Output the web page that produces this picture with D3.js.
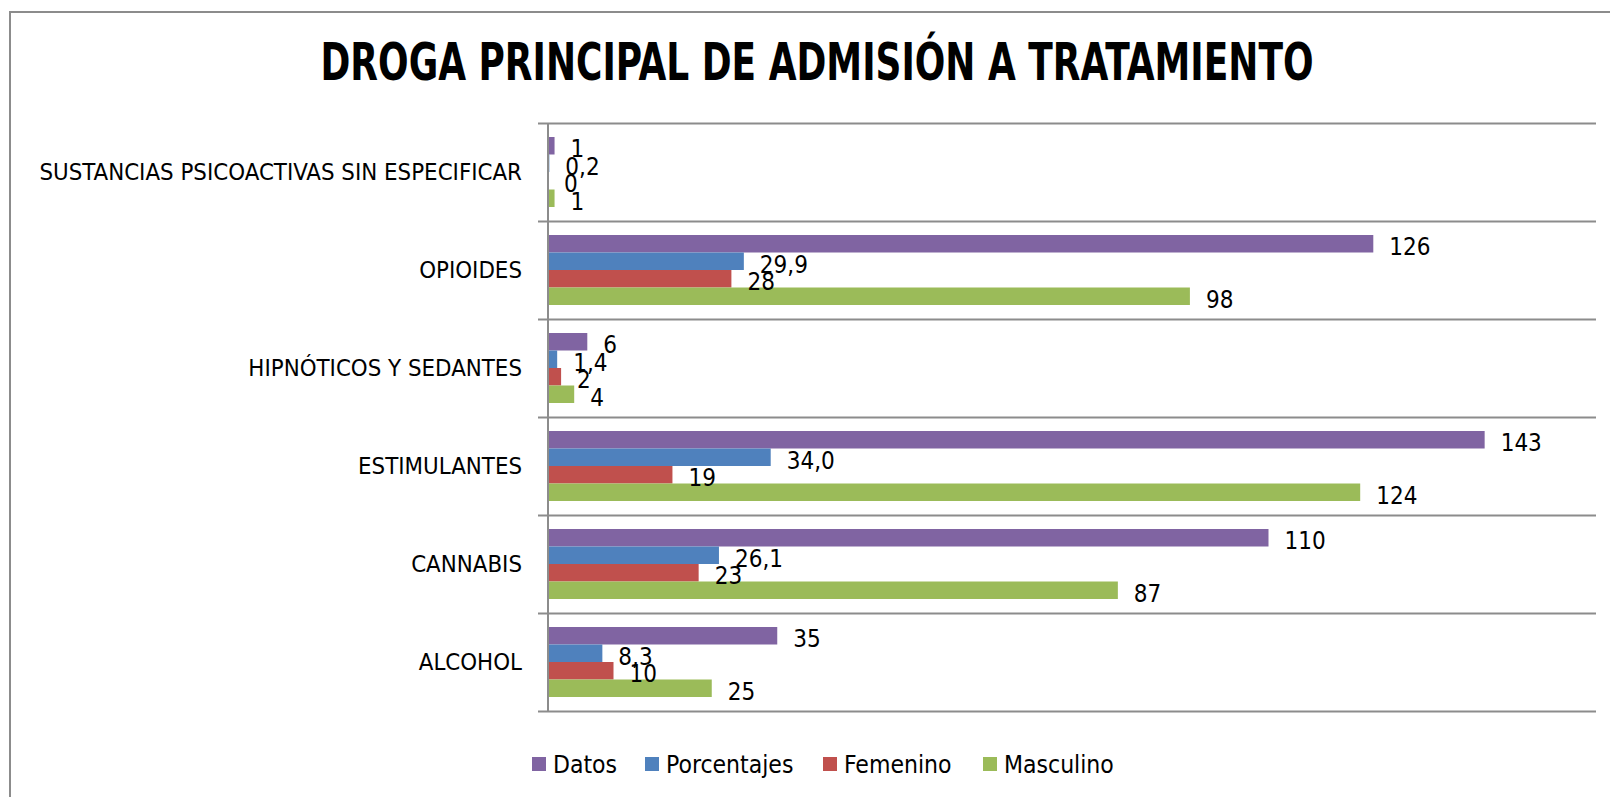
<!DOCTYPE html>
<html>
<head>
<meta charset="utf-8">
<script src="https://cdn.jsdelivr.net/npm/d3@7"></script>
<style>
  html, body { margin: 0; padding: 0; background: #fff; }
  svg { display: block; }
</style>
</head>
<body>
<svg id="chart"></svg>
<script>
const width = 1610,
    height = 797;

// categories, top to bottom as drawn
const categories = [
    'SUSTANCIAS PSICOACTIVAS SIN ESPECIFICAR',
    'OPIOIDES',
    'HIPNÓTICOS Y SEDANTES',
    'ESTIMULANTES',
    'CANNABIS',
    'ALCOHOL',
];
const datos = [1, 126, 6, 143, 110, 35];
const porcentajes = [0.2, 29.9, 1.4, 34.0, 26.1, 8.3];
const femenino = [0, 28, 2, 19, 23, 10];
const masculino = [1, 98, 4, 124, 87, 25];

const seriesNames = ['Datos', 'Porcentajes', 'Femenino', 'Masculino'];
const seriesValues = [datos, porcentajes, femenino, masculino];
const seriesDecimals = [0, 1, 0, 0];
const colors = ['#8064A2', '#4F81BD', '#C0504D', '#9BBB59'];
const xMax = 160;

const font = '"DejaVu Sans Condensed", "Open Sans", sans-serif';

const margin = { top: 123, right: 14, bottom: 86, left: 548 };

const svg = d3.select('#chart').attr('width', width).attr('height', height);

// outer chart frame
svg.append('rect')
    .attr('x', 10).attr('y', 12)
    .attr('width', width + 20).attr('height', height + 20)
    .attr('fill', '#fff')
    .attr('stroke', '#8c8c8c')
    .attr('stroke-width', 2);

svg.append('text')
    .attr('x', 817)
    .attr('y', 80)
    .attr('text-anchor', 'middle')
    .attr('textLength', 993)
    .attr('lengthAdjust', 'spacingAndGlyphs')
    .style('font-family', font)
    .style('font-weight', 'bold')
    .style('font-size', '52px')
    .attr('fill', '#000')
    .text('DROGA PRINCIPAL DE ADMISIÓN A TRATAMIENTO');

const x = d3.scaleLinear()
    .domain([0, xMax])
    .range([margin.left, width - margin.right]);

const y = d3.scaleBand()
    .domain(categories)
    .range([margin.top, height - margin.bottom]);

const yInner = d3.scaleBand()
    .domain(seriesNames)
    .range([0, y.bandwidth()])
    .paddingOuter(0.8);

// gridlines at category boundaries
const bounds = categories.map((c) => y(c)).concat([y.range()[1]]);
svg.append('g')
    .selectAll('line')
    .data(bounds)
    .join('line')
    .attr('x1', margin.left - 10)
    .attr('x2', x(xMax))
    .attr('y1', (d) => Math.round(d) + 0.5)
    .attr('y2', (d) => Math.round(d) + 0.5)
    .attr('stroke', '#8c8c8c')
    .attr('stroke-width', 2);

// category labels
svg.append('g')
    .selectAll('text')
    .data(categories)
    .join('text')
    .attr('x', margin.left - 26)
    .attr('y', (d) => y(d) + y.bandwidth() / 2)
    .attr('dy', '0.35em')
    .attr('text-anchor', 'end')
    .style('font-family', font)
    .style('font-size', '23.8px')
    .attr('fill', '#000')
    .text((d) => d);

const fmt = (v, dec) => d3.format('.' + dec + 'f')(v).replace('.', ',');

const bars = [];
categories.forEach((c, ci) => {
    seriesNames.forEach((s, si) => {
        bars.push({ cat: c, series: s, value: seriesValues[si][ci], color: colors[si], dec: seriesDecimals[si] });
    });
});

svg.append('g')
    .selectAll('rect')
    .data(bars)
    .join('rect')
    .attr('x', x(0))
    .attr('y', (d) => y(d.cat) + yInner(d.series))
    .attr('width', (d) => x(d.value) - x(0))
    .attr('height', yInner.bandwidth())
    .attr('fill', (d) => d.color);

svg.append('g')
    .selectAll('text')
    .data(bars)
    .join('text')
    .attr('x', (d) => x(d.value) + 16)
    .attr('y', (d) => y(d.cat) + yInner(d.series) + yInner.bandwidth() / 2 + 3)
    .attr('dy', '0.35em')
    .style('font-family', font)
    .style('font-size', '24px')
    .attr('fill', '#000')
    .text((d) => fmt(d.value, d.dec));

// vertical axis line
svg.append('line')
    .attr('x1', margin.left).attr('x2', margin.left)
    .attr('y1', y.range()[0]).attr('y2', y.range()[1])
    .attr('stroke', '#8c8c8c')
    .attr('stroke-width', 2);

// legend
const legendX = [532, 645, 823, 983];
const legend = svg.append('g')
    .selectAll('g')
    .data(seriesNames)
    .join('g')
    .attr('transform', (d, i) => 'translate(' + legendX[i] + ',757)');

legend.append('rect')
    .attr('width', 14).attr('height', 14)
    .attr('fill', (d, i) => colors[i]);

legend.append('text')
    .attr('x', 21)
    .attr('y', 7)
    .attr('dy', '0.35em')
    .style('font-family', font)
    .style('font-size', '24.5px')
    .attr('fill', '#000')
    .text((d) => d);
</script>
</body>
</html>
